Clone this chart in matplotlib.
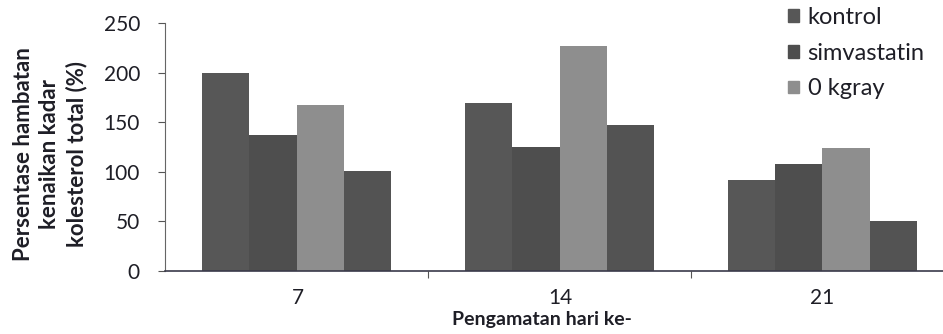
import matplotlib.pyplot as plt
import matplotlib.patches as mpatches
import numpy as np

# hari pengamatan dan persentase hambatan tiap kelompok
hari = ['7', '14', '21']
kontrol = [200, 169, 92]
simvastatin = [137, 125, 108]
kgray_0 = [167, 227, 124]
kelompok_4 = [101, 147, 50]

nama_seri = ['kontrol', 'simvastatin', '0 kgray', '']
warna = ['#575757', '#4e4e4e', '#8e8e8e', '#535353']

plt.rcParams['font.family'] = ['Lato', 'DejaVu Sans']
teks = '#1e1e26'

fig = plt.figure(figsize=(9.43, 3.34), dpi=100)
ax = fig.add_axes([165 / 943, 63 / 334, 789 / 943, 248 / 334])

x = np.arange(len(hari))
lebar = 0.18
semua = [kontrol, simvastatin, kgray_0, kelompok_4]
for i, nilai in enumerate(semua):
    ax.bar(x + (i - 1.5) * lebar, nilai, lebar, color=warna[i],
           edgecolor='none', zorder=2)

ax.set_xlim(-0.5, 2.5)
ax.set_ylim(0, 250)
ax.set_yticks(range(0, 251, 50))
ax.set_xticks([0.5, 1.5])
ax.set_xticklabels([])
ax.tick_params(axis='x', length=5, color='#555555', direction='out')
ax.tick_params(axis='y', length=5, color='#555555', direction='out',
               pad=13, labelsize=15, labelcolor=teks)

for s in ['top', 'right']:
    ax.spines[s].set_visible(False)
ax.spines['left'].set_color('#666666')
ax.spines['bottom'].set_color('#3a3a4a')
ax.spines['bottom'].set_linewidth(1.2)

# label kategori sumbu x
for xi, h in zip([298, 560, 822], hari):
    fig.text(xi / 943, 1 - 298 / 334, h, ha='center', va='center',
             fontsize=15, color=teks)

fig.text(542 / 943, 1 - 320 / 334, 'Pengamatan hari ke-', ha='center',
         va='center', fontsize=14, fontweight='bold', color=teks)
fig.text(50 / 943, 1 - 154 / 334,
         'Persentase hambatan\nkenaikan kadar\nkolesterol total (%)',
         ha='center', va='center', rotation=90, multialignment='center',
         fontsize=16, fontweight='bold', color=teks, linespacing=1.3)

# legenda hanya tiga seri pertama
handles = [mpatches.Patch(color=warna[i], label=nama_seri[i]) for i in range(3)]
leg = fig.legend(handles=handles, loc='upper left',
                 bbox_to_anchor=(788 / 943, 1 - 7 / 334), frameon=False,
                 fontsize=17, handlelength=0.45, handleheight=0.45,
                 handletextpad=0.38, labelspacing=0.62, borderaxespad=0,
                 borderpad=0)
for t in leg.get_texts():
    t.set_color(teks)

fig.savefig('out.png', dpi=100)
